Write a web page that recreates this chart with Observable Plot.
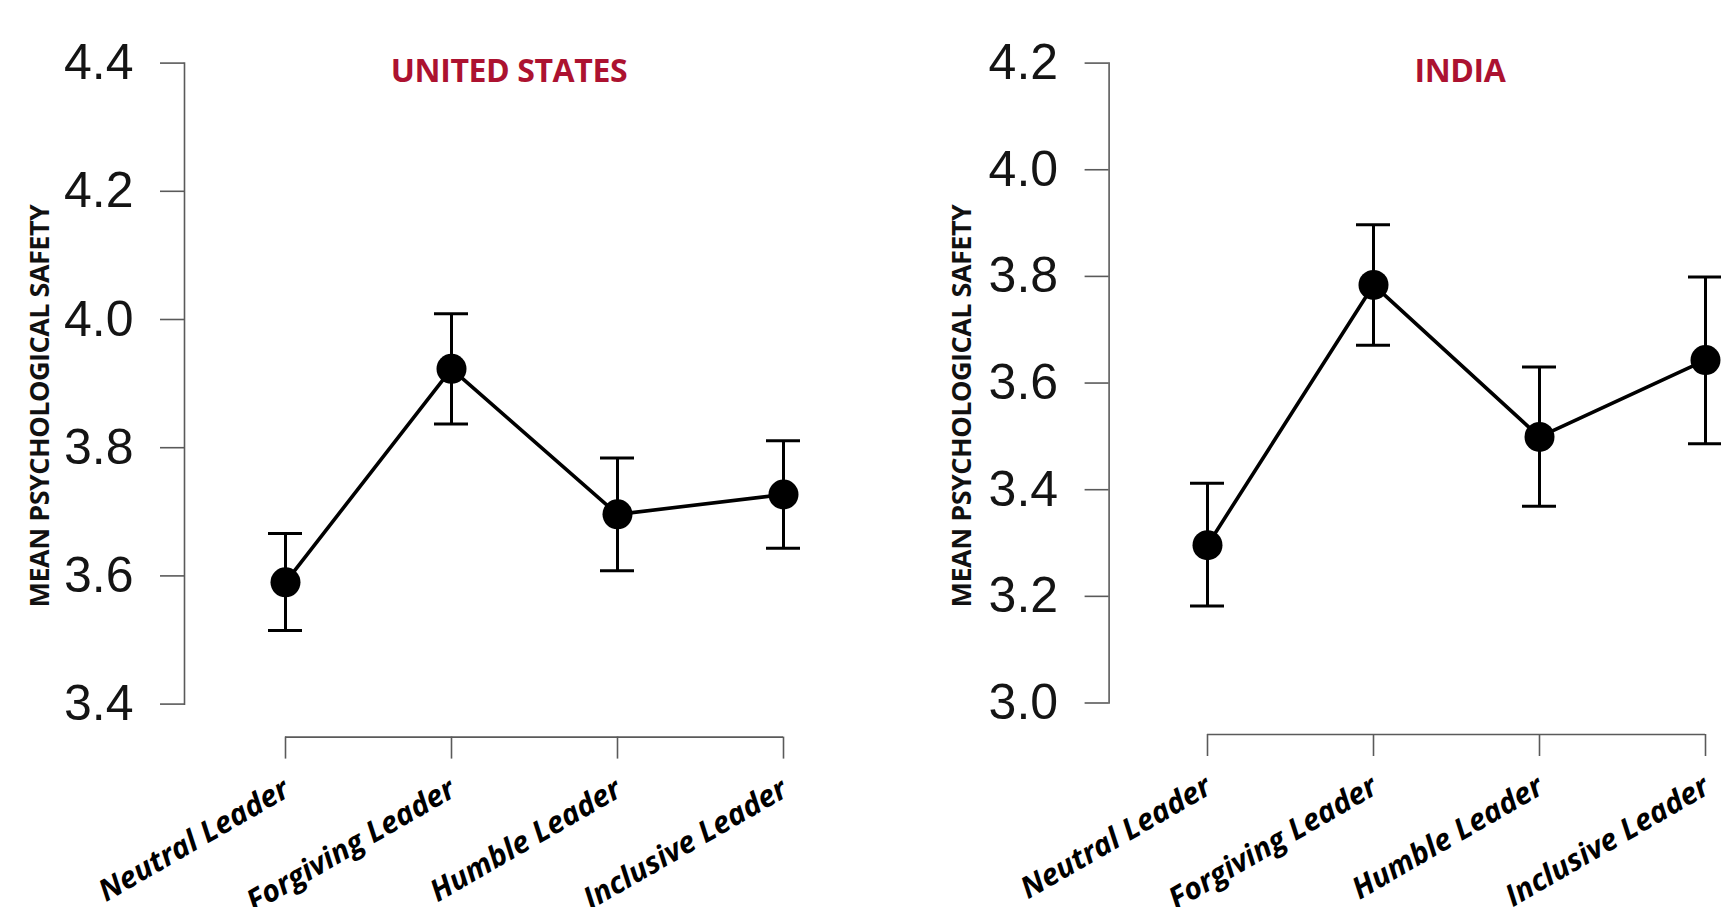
<!DOCTYPE html>
<html><head><meta charset="utf-8">
<script src="https://cdn.jsdelivr.net/npm/d3@7"></script>
<script src="https://cdn.jsdelivr.net/npm/@observablehq/plot@0.6"></script>
<style>
html,body{margin:0;padding:0;background:#fff;}
#wrap{position:relative;width:1721px;height:907px;overflow:hidden;background:#fff;}
.panel{position:absolute;top:0;}
.title{position:absolute;font-family:"Open Sans",sans-serif;font-weight:700;font-size:32px;color:#ac1230;transform:translate(-50%,-50%);white-space:nowrap;letter-spacing:-0.4px;}
.ylab{position:absolute;font-family:"Open Sans",sans-serif;font-weight:700;font-size:27px;color:#111;transform:translate(-50%,-50%) rotate(-90deg);white-space:nowrap;letter-spacing:-0.5px;}
</style></head><body><div id="wrap"></div>
<script>
const leaders = ["Neutral Leader", "Forgiving Leader", "Humble Leader", "Inclusive Leader"];
const titles = ["UNITED STATES", "INDIA"];
const yLabel = "MEAN PSYCHOLOGICAL SAFETY";

const usMean = [3.590, 3.923, 3.696, 3.727];
const usLow  = [3.515, 3.837, 3.608, 3.643];
const usHigh = [3.666, 4.009, 3.784, 3.811];
const usTicks = [3.4, 3.6, 3.8, 4.0, 4.2, 4.4];

const inMean = [3.296, 3.784, 3.499, 3.643];
const inLow  = [3.182, 3.671, 3.369, 3.486];
const inHigh = [3.412, 3.897, 3.630, 3.799];
const inTicks = [3.0, 3.2, 3.4, 3.6, 3.8, 4.0, 4.2];

const wrap = document.getElementById("wrap");

function panel(cfg) {
  const data = leaders.map((l, i) => ({leader: l, mean: cfg.mean[i], low: cfg.low[i], high: cfg.high[i]}));
  const baseline = [{y: cfg.ticks[0], x1: leaders[0], x2: leaders[leaders.length - 1]}];
  const H = 907;
  const axisColor = "#5a5a5a";
  const plot = Plot.plot({
    width: cfg.width, height: H,
    marginTop: cfg.top, marginBottom: H - cfg.bottom, marginLeft: cfg.left, marginRight: 0,
    style: {background: "transparent", overflow: "visible"},
    x: {type: "point", domain: leaders, range: cfg.xRange, padding: 0, axis: null},
    y: {domain: [cfg.ticks[0], cfg.ticks[cfg.ticks.length - 1]], axis: null},
    marks: [
      Plot.frame({anchor: "left", stroke: axisColor, strokeWidth: 1.6}),
      Plot.axisY(cfg.ticks, {anchor: "left", tickSize: 24, tickPadding: 27, tickFormat: d => d.toFixed(1),
        fontSize: 50, fontFamily: "Liberation Sans, Arial, sans-serif", stroke: axisColor, fill: "#141414", strokeWidth: 1.6, label: null}),
      Plot.ruleY(baseline, {y: "y", x1: "x1", x2: "x2", dy: cfg.offset, stroke: axisColor, strokeWidth: 1.6}),
      Plot.axisX(leaders, {anchor: "bottom", tickSize: 22, dy: cfg.offset, tickFormat: () => "", stroke: axisColor, strokeWidth: 1.6, label: null}),
      Plot.text(leaders, {x: d => d, frameAnchor: "bottom", dy: cfg.offset + 58, dx: 6, rotate: -30, textAnchor: "end", lineAnchor: "bottom",
        fontSize: 30, fontWeight: 700, fontStyle: "italic", fontFamily: "Open Sans, sans-serif", fill: "#000"}),
      Plot.ruleX(data, {x: "leader", y1: "low", y2: "high", stroke: "#000", strokeWidth: 3}),
      Plot.ruleY(data, {x1: "leader", x2: "leader", y: "low", insetLeft: -17, insetRight: -17, stroke: "#000", strokeWidth: 3}),
      Plot.ruleY(data, {x1: "leader", x2: "leader", y: "high", insetLeft: -17, insetRight: -17, stroke: "#000", strokeWidth: 3}),
      Plot.line(data, {x: "leader", y: "mean", stroke: "#000", strokeWidth: 3.6}),
      Plot.dot(data, {x: "leader", y: "mean", r: 15, fill: "#000", stroke: null})
    ]
  });
  const div = document.createElement("div");
  div.className = "panel";
  div.style.left = cfg.x + "px";
  div.appendChild(plot);
  wrap.appendChild(div);

  const t = document.createElement("div");
  t.className = "title";
  t.textContent = cfg.title;
  t.style.left = (cfg.x + cfg.titleX) + "px";
  t.style.top = "69px";
  wrap.appendChild(t);

  const yl = document.createElement("div");
  yl.className = "ylab";
  yl.textContent = yLabel;
  yl.style.left = (cfg.x + cfg.ylabX) + "px";
  yl.style.top = "406px";
  wrap.appendChild(yl);
}

panel({title: titles[0], mean: usMean, low: usLow, high: usHigh, ticks: usTicks,
  x: 0, width: 860, left: 184, top: 62.6, bottom: 703.6, xRange: [285, 783], offset: 33, titleX: 509, ylabX: 38});
panel({title: titles[1], mean: inMean, low: inLow, high: inHigh, ticks: inTicks,
  x: 860, width: 861, left: 248.6, top: 62.6, bottom: 702.5, xRange: [347, 845.6], offset: 31.5, titleX: 600, ylabX: 100});
</script>
</body></html>
